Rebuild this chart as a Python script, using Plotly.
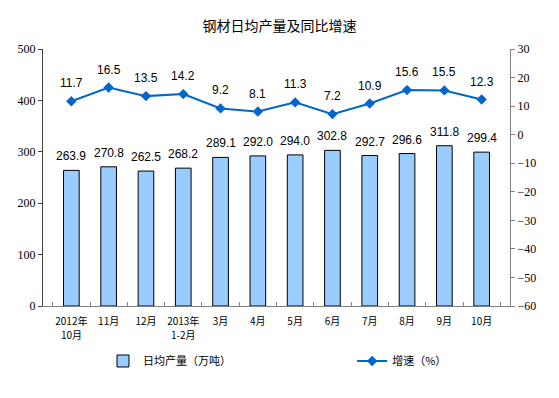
import plotly.graph_objects as go

categories = ["2012年10月", "11月", "12月", "2013年1-2月", "3月", "4月",
              "5月", "6月", "7月", "8月", "9月", "10月"]
tick_line1 = ["2012年", "11月", "12月", "2013年", "3月", "4月",
              "5月", "6月", "7月", "8月", "9月", "10月"]
tick_line2 = ["10月", "", "", "1-2月", "", "", "", "", "", "", "", ""]
output = [263.9, 270.8, 262.5, 268.2, 289.1, 292.0, 294.0, 302.8, 292.7, 296.6, 311.8, 299.4]
growth = [11.7, 16.5, 13.5, 14.2, 9.2, 8.1, 11.3, 7.2, 10.9, 15.6, 15.5, 12.3]

fig = go.Figure()
fig.add_trace(go.Bar(
    x=categories, y=output, name="日均产量（万吨）",
    marker=dict(color="#99CCFF", line=dict(color="#000000", width=1)),
    width=0.42, yaxis="y", legend="legend",
))
fig.add_trace(go.Scatter(
    x=categories, y=growth, name="增速（%）", yaxis="y2",
    mode="lines+markers",
    line=dict(color="#0066CC", width=2),
    marker=dict(symbol="diamond", size=8, color="#0066CC"),
    legend="legend2",
))

label_font = dict(family="Liberation Sans", size=12, color="#000000")
tick_font = dict(family="Noto Sans CJK SC", size=10, color="#000000")
annotations = []
for c, v in zip(categories, output):
    annotations.append(dict(x=c, y=v, xref="x", yref="y", text=f"{v:.1f}",
                            showarrow=False, yanchor="bottom", yshift=5, font=label_font))
for c, v in zip(categories, growth):
    annotations.append(dict(x=c, y=v, xref="x", yref="y2", text=f"{v:.1f}",
                            showarrow=False, yanchor="bottom", yshift=9, font=label_font))
for c, t in zip(categories, tick_line2):
    if t:
        annotations.append(dict(x=c, y=-0.109, xref="x", yref="paper", text=t,
                                showarrow=False, yanchor="middle", font=tick_font))

legend_font = dict(family="Noto Sans CJK SC", size=11, color="#000000")
fig.update_layout(
    width=559, height=398,
    margin=dict(l=43, r=49, t=49, b=92, autoexpand=False),
    paper_bgcolor="white", plot_bgcolor="white",
    title=dict(text="钢材日均产量及同比增速", x=0.5, xanchor="center", y=0.935, yanchor="middle",
               font=dict(family="Noto Sans CJK SC", size=14, color="#000000")),
    showlegend=True,
    legend=dict(orientation="h", x=0.1285, y=-0.214, xanchor="left", yanchor="middle",
                font=legend_font, bgcolor="rgba(0,0,0,0)"),
    legend2=dict(orientation="h", x=0.662, y=-0.214, xanchor="left", yanchor="middle",
                 font=legend_font, bgcolor="rgba(0,0,0,0)"),
    xaxis=dict(type="category", showline=True, linecolor="#808080", linewidth=1,
               ticks="inside", ticklen=4, tickcolor="#808080", tickson="boundaries",
               tickvals=categories, ticktext=tick_line1,
               tickangle=0, automargin=False, ticklabelstandoff=6,
               tickfont=tick_font,
               showgrid=False, zeroline=False, mirror=False),
    yaxis=dict(range=[0, 500], dtick=100, showline=True, linecolor="#404040", linewidth=1,
               ticks="outside", ticklen=4, tickcolor="#404040", showgrid=False, zeroline=False,
               automargin=False,
               tickfont=dict(family="Liberation Serif", size=12, color="#000000")),
    yaxis2=dict(range=[-60, 30], dtick=10, overlaying="y", side="right", showline=True,
                linecolor="#808080", linewidth=1, ticks="outside", ticklen=4, tickcolor="#808080",
                showgrid=False, zeroline=False, automargin=False,
                tickfont=dict(family="Liberation Serif", size=12, color="#000000")),
    annotations=annotations,
    bargap=0.58,
)

fig.write_html("out.html", config={"displayModeBar": False},
               post_script="document.body.style.margin='0';document.body.style.padding='0';")
